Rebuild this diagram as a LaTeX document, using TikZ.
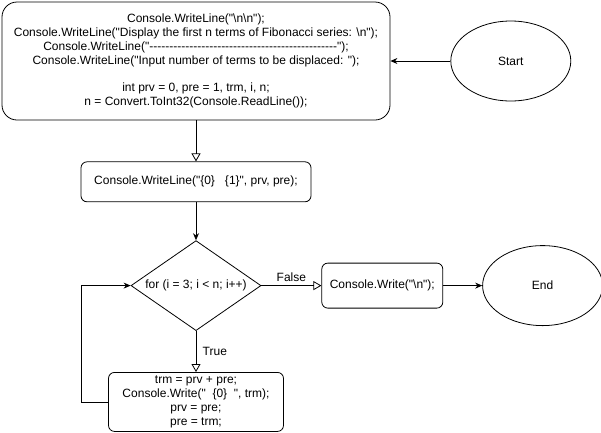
\documentclass[tikz,border=0pt]{standalone}
\usepackage{fontspec}
\setmainfont{Liberation Sans}[Ligatures=TeXOff]
\usetikzlibrary{positioning,arrows.meta,shapes.geometric}

\begin{document}
\begin{tikzpicture}[
            font=\fontsize{12}{13.8}\selectfont,
            line width=0.8pt,
            block/.style={rectangle, draw, rounded corners=6pt, align=center, inner sep=2pt},
            term/.style={ellipse, draw, minimum width=120pt, minimum height=80pt},
            decision/.style={diamond, draw, aspect=1.44, inner sep=0pt, minimum width=130pt, minimum height=90pt},
            arrow/.style={-{Stealth[length=7pt,width=6pt]}},
            openarrow/.style={-{Triangle[open,length=8pt,width=9pt]}}
        ]
        \useasboundingbox (0,0) rectangle (601pt,-432pt);
        \node[block, rounded corners=15pt, minimum width=388pt, minimum height=118pt] (init) at (196pt,-61pt)
            {Console.WriteLine("\textbackslash n\textbackslash n");\\
             Console.WriteLine("Display the first n terms of Fibonacci series: \textbackslash n");\\
             Console.WriteLine("-----------------------------------------------");\\
             Console.WriteLine("Input number of terms to be displaced: ");\\[13.8pt]
             int prv = 0, pre = 1, trm, i, n;\\
             n = Convert.ToInt32(Console.ReadLine());};
        \node[term, right=60pt of init] (start) {Start};
        \node[block, minimum width=230pt, minimum height=40pt, below=41pt of init] (show)
            {Console.WriteLine("\{0\}\ \ \ \{1\}", prv, pre);};
        \node[decision, below=38pt of show] (loop) {for (i = 3; i < n; i++)};
        \node[block, minimum width=175pt, minimum height=59pt, below=41pt of loop] (body)
            {trm = prv + pre;\\ Console.Write("\ \ \{0\}\ \ ", trm);\\ prv = pre;\\ pre = trm;};
        \node[block, minimum width=121pt, minimum height=45pt, right=60pt of loop] (newline)
            {Console.Write("\textbackslash n");};
        \node[term, right=39pt of newline] (stop) {End};
        \draw[arrow] (start) -- (init);
        \draw[openarrow] (init) -- (show);
        \draw[arrow] (show) -- (loop);
        \draw[openarrow] (loop) -- node[above] {False} (newline);
        \draw[openarrow] (loop) -- node[right=3pt] {True} (body);
        \draw[arrow] (newline) -- (stop);
        \draw[arrow] (body.west) -- ++(-27pt,0) |- (loop.west);
        \end{tikzpicture}
\end{document}
